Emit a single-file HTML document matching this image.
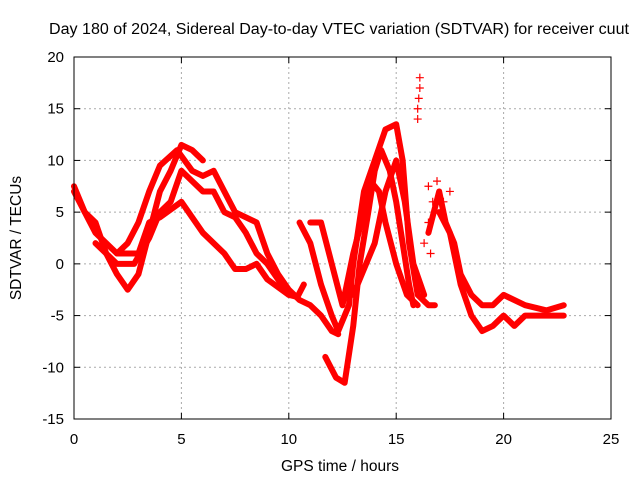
<!DOCTYPE html>
<html><head><meta charset="utf-8"><style>
body{margin:0;background:#fff;}
svg{font-family:"Liberation Sans",sans-serif;}
</style></head><body>
<svg id="chart" width="640" height="480" viewBox="0 0 640 480" xmlns="http://www.w3.org/2000/svg">
<rect width="640" height="480" fill="#fff"/>
<text x="49" y="34" font-size="15.5" textLength="580" lengthAdjust="spacingAndGlyphs">Day 180 of 2024, Sidereal Day-to-day VTEC variation (SDTVAR) for receiver cuut</text>
<g id="grid"></g>
<g id="series"></g>
<rect x="74" y="57" width="537" height="362" fill="none" stroke="#000" stroke-width="1"/>
<g id="ticks"></g>
<text x="340" y="471" font-size="15.5" text-anchor="middle">GPS time / hours</text>
<text transform="translate(21,238) rotate(-90)" font-size="15.5" text-anchor="middle">SDTVAR / TECUs</text>
</svg>
<script>
const xTicks=[0,5,10,15,20,25];
const yTicks=[-15,-10,-5,0,5,10,15,20];
const trackA=[[0,7.5],[0.5,5],[1,4],[1.5,1],[2,-1],[2.5,-2.5],[3,-1],[3.5,3],[4,7],[4.5,9],[5,11.5],[5.5,11],[6,10]];
const trackB=[[0,7],[1,3],[2,1],[2.5,2],[3,4],[3.5,7],[4,9.5],[4.8,11],[5.5,9],[6,8.5],[6.5,9],[7,7],[7.5,5],[8,4.5],[8.5,4],[9,1],[9.5,-1],[10,-2.5],[10.5,-3.5],[11,-4],[11.5,-5],[12,-6.5],[12.3,-6.8]];
const trackC=[[1,2],[2,0],[2.8,0],[3.5,2.5],[4,5],[4.5,6],[5,9],[5.5,8],[6,7],[6.5,7],[7,5],[7.5,4.5],[8,3],[8.5,1],[9,0],[9.5,-1.5],[10,-3],[10.4,-3.2],[10.7,-2]];
const trackD=[[2,1],[3,1],[3.5,4],[4,4.5],[5,6],[6,3],[7,1],[7.5,-0.5],[8,-0.5],[8.5,0],[9,-1.5],[10,-3]];
const trackE=[[10.5,4],[11,2],[11.5,-2],[12,-5],[12.3,-6.5],[12.8,-4],[13,0],[13.5,7],[14,10],[14.5,13],[15,13.5],[15.3,10],[15.6,2],[16,-3],[16.5,-4],[16.8,-4]];
const trackF=[[11.7,-9],[12.2,-11],[12.6,-11.5],[13,-6],[13.3,0],[13.7,5],[14,9],[14.3,11],[14.7,9],[15,6],[15.3,2],[15.6,-2],[15.8,-4]];
const trackG=[[11,4],[11.5,4],[12,0],[12.5,-4],[13,1],[13.5,5],[13.8,8],[14.2,7],[14.5,4],[15,0],[15.5,-3],[16,-4]];
const trackH=[[13,-3],[14,2],[14.5,7],[15,10],[15.4,6],[15.8,0],[16.3,-3]];
const trackI=[[16.5,3],[17,7],[17.3,4],[17.7,2],[18,-1],[18.5,-3],[19,-4],[19.5,-4],[20,-3],[21,-4],[22,-4.5],[22.8,-4]];
const trackJ=[[17,5],[17.5,3],[18,-2],[18.5,-5],[19,-6.5],[19.5,-6],[20,-5],[20.5,-6],[21,-5],[22,-5],[22.8,-5]];
const scatter=[[16.1,18],[16.1,17],[16.05,16],[16,15],[16,14],[16.5,7.5],[16.9,8],[16.7,6],[16.5,4],[16.8,5],[16.3,2],[16.6,1],[17.5,7],[17.2,6]];
const tracks=[trackA,trackB,trackC,trackD,trackE,trackF,trackG,trackH,trackI,trackJ];
const X0=74,X1=611,Y0=419,Y1=57;
const xs=v=>X0+(v-0)/25*(X1-X0);
const ys=v=>Y0-(v+15)/35*(Y0-Y1);
const NS="http://www.w3.org/2000/svg";
const grid=document.getElementById('grid'),ticks=document.getElementById('ticks'),ser=document.getElementById('series');
function mk(t,a,p){const e=document.createElementNS(NS,t);for(const k in a)e.setAttribute(k,a[k]);p.appendChild(e);return e;}
xTicks.forEach(v=>{
 const x=xs(v);
 if(v>0&&v<25){const g=mk('line',{x1:x,x2:x,y1:Y1,y2:Y0,stroke:'#aaa','stroke-dasharray':'2,3'},grid);
 
 }
 const t=mk('text',{x:x,y:444,'font-size':15,'text-anchor':'middle'},ticks);t.textContent=v;
 
 
 mk('line',{x1:x,x2:x,y1:Y0,y2:Y0-6,stroke:'#000'},ticks);
 mk('line',{x1:x,x2:x,y1:Y1,y2:Y1+6,stroke:'#000'},ticks);
});
yTicks.forEach(v=>{
 const y=ys(v);
 if(v>-15&&v<20){const g=mk('line',{x1:X0,x2:X1,y1:y,y2:y,stroke:'#aaa','stroke-dasharray':'2,3'},grid);
 
 }
 const t=mk('text',{x:64,y:y+5,'font-size':15,'text-anchor':'end'},ticks);t.textContent=v;
 
 
 mk('line',{x1:X0,x2:X0+6,y1:y,y2:y,stroke:'#000'},ticks);
 mk('line',{x1:X1,x2:X1-6,y1:y,y2:y,stroke:'#000'},ticks);
});
tracks.forEach((tr,i)=>{
 const p=mk('polyline',{points:tr.map(d=>xs(d[0])+','+ys(d[1])).join(' '),fill:'none',stroke:'#f00','stroke-width':6,'stroke-linejoin':'round','stroke-linecap':'round'},ser);
 
 
});
scatter.forEach(d=>{
 const x=xs(d[0]),y=ys(d[1]);
 const p=mk('path',{d:`M${x-4},${y}H${x+4}M${x},${y-4}V${y+4}`,stroke:'#f00','stroke-width':1.2},ser);
 
 
});
</script>
</body></html>
